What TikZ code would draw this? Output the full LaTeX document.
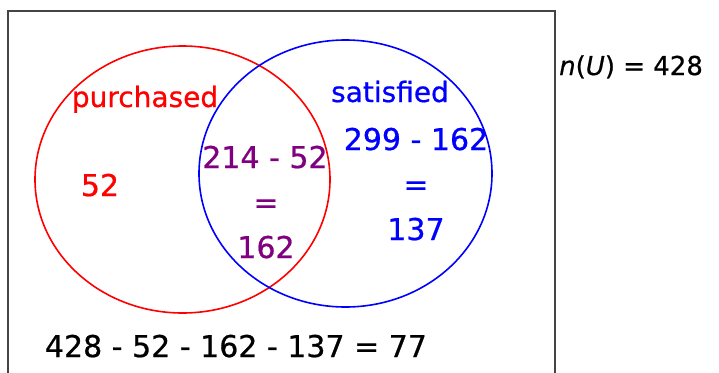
\documentclass[tikz,border=0pt]{standalone}
\usepackage{fontspec}
\setmainfont{DejaVu Sans}
\newfontfamily\thickfont[FakeBold=0.7]{DejaVu Sans}
\newfontfamily\thickital[FakeBold=0.5]{DejaVu Sans Oblique}
\definecolor{vred}{RGB}{255,0,0}
\definecolor{vblue}{RGB}{0,0,255}
\definecolor{vpurple}{RGB}{128,0,128}
\definecolor{frame}{RGB}{68,68,68}
\begin{document}
\begin{tikzpicture}[x=1pt,y=-1pt,
  lbl/.style={inner sep=0pt,anchor=base,font=\thickfont\fontsize{28}{30}\selectfont},
  num/.style={inner sep=0pt,anchor=base,font=\thickfont\fontsize{30}{32}\selectfont}]
\useasboundingbox (0,0) rectangle (719,372);
\clip (0,0) rectangle (719,372);
\fill[white] (0,0) rectangle (719,372);
\draw[frame,line width=2pt] (8,11) rectangle (555,400);
\draw[vred,line width=1.6pt] (182.5,179.5) ellipse [x radius=147.5,y radius=133.5];
\draw[vblue,line width=1.6pt] (345.5,173.5) ellipse [x radius=146.5,y radius=133.5];
\node[lbl,text=vred] (pur) at (145,107) {purchased};
\node[lbl,text=vblue] (sat) at (390,102) {satisfied};
\node[num,text=vred] (a) at (100,196) {52};
\node[num,text=vpurple] (b1) at (265,168) {214 - 52};
\node[num,text=vpurple] (b2) at (266,213) {=};
\node[num,text=vpurple] (b3) at (266,258) {162};
\node[num,text=vblue] (c1) at (416,150) {299 - 162};
\node[num,text=vblue] (c2) at (416,195) {=};
\node[num,text=vblue] (c3) at (416,240) {137};
\node[num] (d) at (236,357) {428 - 52 - 162 - 137 = 77};
\node[inner sep=0pt,anchor=base west,font=\thickfont\fontsize{26}{28}\selectfont] (u) at (559,75) {{\thickital n}({\thickital U}) = 428};
\end{tikzpicture}
\end{document}
